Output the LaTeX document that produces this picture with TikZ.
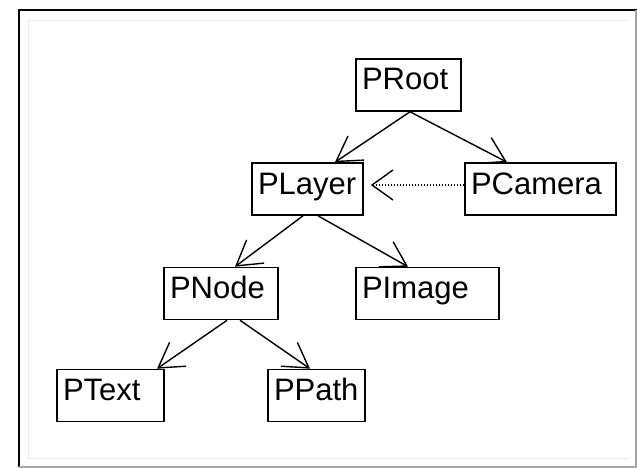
\documentclass[tikz,border=0pt]{standalone}
\usepackage{fontspec}
\setmainfont{Liberation Sans}
\usetikzlibrary{arrows.meta}

\begin{document}
\begin{tikzpicture}[x=1pt,y=-1pt,
  cls/.style={draw=black, line width=1.6pt, fill=white, minimum height=52pt,
    inner xsep=6pt, inner ysep=0pt, align=left, text height=22pt, text depth=12pt,
    font=\fontsize{31}{31}\selectfont},
  inherit/.style={draw=black, line width=1.4pt,
    -{Straight Barb[length=24pt,width=29pt,line width=1.4pt]}},
  refer/.style={draw=black, line width=1.4pt, dash pattern=on 1.5pt off 1.5pt,
    -{Straight Barb[length=21pt,width=30pt,line width=1.4pt]}}]

  % canvas extent and sunken panel frame
  \useasboundingbox (0,0) rectangle (637,468);
  \fill[white] (0,0) rectangle (637,468);
  \draw[gray!15, line width=0.8pt] (28,458) -- (28,20) -- (628,20);
  \draw[gray!15, line width=0.8pt] (28,458) -- (628,458);
  \draw[black, line width=2pt] (19,467) -- (19,10) -- (637,10);
  \draw[gray!70, line width=1.2pt] (19,467) -- (636,467) -- (636,10);

  % class boxes
  \node[cls, minimum width=105pt, text width=93pt] (root)   at (408.5,85)   {PRoot};
  \node[cls, minimum width=111pt, text width=99pt] (layer)  at (307.5,189)  {PLayer};
  \node[cls, minimum width=151pt, text width=139pt] (camera) at (540.5,189) {PCamera};
  \node[cls, minimum width=114pt, text width=102pt] (pnode) at (221,293.5)  {PNode};
  \node[cls, minimum width=143pt, text width=131pt] (image) at (427.5,293.5) {PImage};
  \node[cls, minimum width=107pt, text width=95pt] (ptext)  at (110.5,395.5) {PText};
  \node[cls, minimum width=97pt, text width=85pt]  (path)   at (316.5,395.5) {PPath};

  % containment links
  \draw[inherit] ([xshift=1.5pt]root.south)  -- ([xshift=27.5pt]layer.north);
  \draw[inherit] ([xshift=1.5pt]root.south)  -- ([xshift=-33.5pt]camera.north);
  \draw[inherit] ([xshift=-4.5pt]layer.south) -- ([xshift=14pt]pnode.north);
  \draw[inherit] ([xshift=10.5pt]layer.south) -- ([xshift=-19.5pt]image.north);
  \draw[inherit] ([xshift=6pt]pnode.south)   -- ([xshift=46.5pt]ptext.north);
  \draw[inherit] ([xshift=19pt]pnode.south)  -- ([xshift=-6.5pt]path.north);

  % camera views the layer
  \draw[refer] ([yshift=4pt]camera.west) -- ([yshift=4pt,xshift=7pt]layer.east);
\end{tikzpicture}
\end{document}
